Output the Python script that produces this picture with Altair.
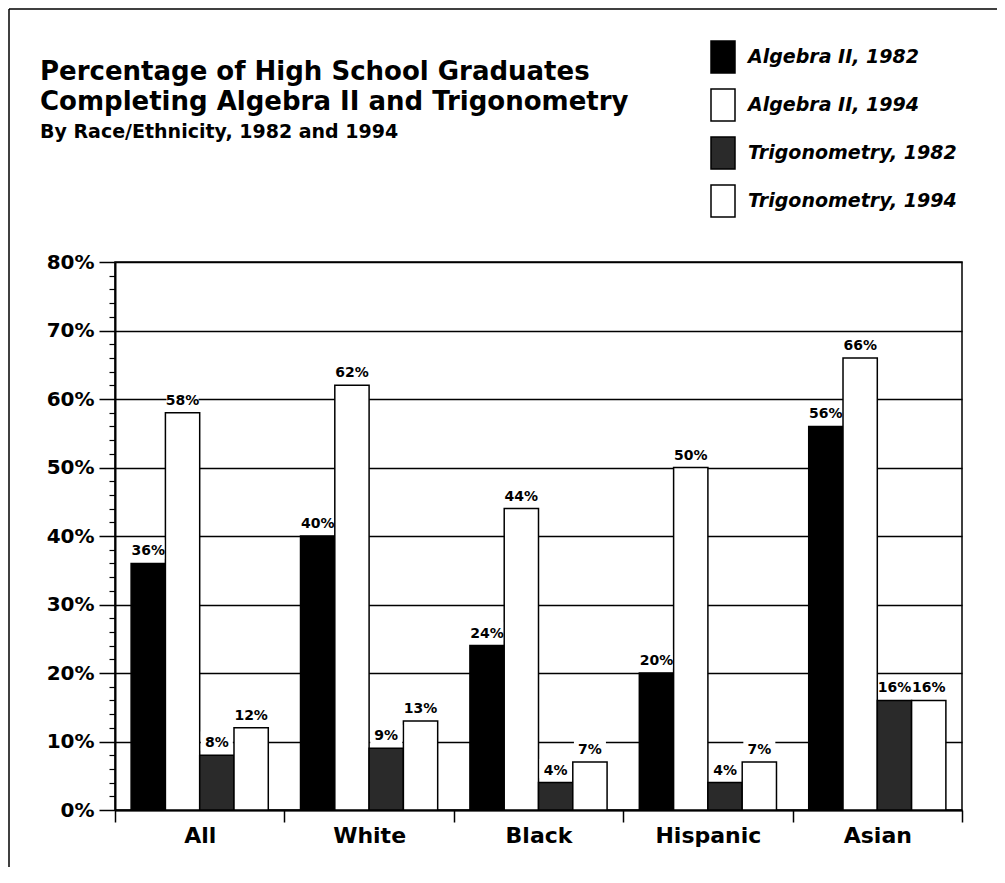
import altair as alt
import pandas as pd

groups = ["All", "White", "Black", "Hispanic", "Asian"]
series = ["Algebra II, 1982", "Algebra II, 1994", "Trigonometry, 1982", "Trigonometry, 1994"]
algebra_1982 = [36, 40, 24, 20, 56]
algebra_1994 = [58, 62, 44, 50, 66]
trig_1982 = [8, 9, 4, 4, 16]
trig_1994 = [12, 13, 7, 7, 16]
y_major = [0, 10, 20, 30, 40, 50, 60, 70, 80]
y_minor = [2, 4, 6, 8, 12, 14, 16, 18, 22, 24, 26, 28, 32, 34, 36, 38, 42, 44, 46, 48,
           52, 54, 56, 58, 62, 64, 66, 68, 72, 74, 76, 78]
fills = ["#000000", "#ffffff", "#2a2a2a", "#ffffff"]

rows = []
for s, vals in zip(series, [algebra_1982, algebra_1994, trig_1982, trig_1994]):
    for g, v in zip(groups, vals):
        rows.append({"group": g, "series": s, "value": v, "label": f"{v}%"})
df = pd.DataFrame(rows)

FONT = "DejaVu Sans"

x_axis = alt.Axis(title=None, labelAngle=0, tickBand="extent", tickSize=12,
                  tickColor="black", tickWidth=1.5, domainColor="black",
                  domainWidth=2, labelFont=FONT, labelFontWeight="bold",
                  labelFontSize=22, labelColor="black", labelPadding=3,
                  grid=False)
x_enc = alt.X("group:N", sort=groups,
              scale=alt.Scale(paddingInner=0, paddingOuter=0),
              axis=x_axis)
xo_enc = alt.XOffset("series:N", sort=series,
                     scale=alt.Scale(paddingInner=0, paddingOuter=0.47))
y_scale = alt.Scale(domain=[0, 80], nice=False)

bars = alt.Chart(df).mark_bar(stroke="black", strokeWidth=1.5).encode(
    x=x_enc,
    xOffset=xo_enc,
    y=alt.Y("value:Q", scale=y_scale,
            axis=alt.Axis(title=None, values=y_major, labelExpr="datum.value + '%'",
                          orient="left", grid=True, gridColor="black", gridWidth=1.3,
                          gridOpacity=1, tickSize=16, tickWidth=1.5, tickColor="black",
                          domainColor="black", domainWidth=2, labelFont=FONT,
                          labelFontWeight="bold", labelFontSize=20, labelColor="black",
                          labelPadding=5)),
    fill=alt.Fill("series:N", sort=series,
                  scale=alt.Scale(domain=series, range=fills),
                  legend=alt.Legend(title=None, orient="none", legendX=591, legendY=-222,
                                    symbolType="M-0.75,-1H0.75V1H-0.75Z", symbolSize=1024,
                                    symbolStrokeColor="black", symbolStrokeWidth=1.5,
                                    symbolOpacity=1, rowPadding=10, labelOffset=8,
                                    labelFont=FONT, labelFontStyle="italic",
                                    labelFontWeight="bold",
                                    labelFontSize=19, labelColor="black", padding=0,
                                    labelLimit=400)),
)

boxes = alt.Chart(df).mark_point(
    shape="M-1,-0.6H1V0.6H-1Z", filled=True, fill="white", opacity=1,
    strokeWidth=0, size=1024, yOffset=-14
).encode(
    x=x_enc,
    xOffset=xo_enc,
    y=alt.Y("value:Q", scale=y_scale,
            axis=alt.Axis(title=None, values=y_minor, orient="left", labels=False,
                          domain=False, grid=False, tickSize=6, tickWidth=1.2,
                          tickColor="black")),
)

labels = alt.Chart(df).mark_text(
    font=FONT, fontWeight="bold", fontSize=14, color="black", dy=-8,
    baseline="alphabetic"
).encode(
    x=x_enc,
    xOffset=xo_enc,
    y=alt.Y("value:Q", scale=y_scale, axis=None),
    text="label:N",
)

frame_src = alt.Data(values=[{"k": 1}])
frame_left = alt.Chart(frame_src).mark_rule(color="black", strokeWidth=1.5).encode(
    x=alt.value(-106), y=alt.value(-253), y2=alt.value(640))
frame_top = alt.Chart(frame_src).mark_rule(color="black", strokeWidth=1.5).encode(
    x=alt.value(-106), x2=alt.value(900), y=alt.value(-253))

chart = alt.layer(bars, boxes, labels, frame_left, frame_top).resolve_axis(
    y="independent"
).properties(
    width=847, height=548,
    padding={"left": 107, "top": 254, "right": 35, "bottom": 57},
    autosize=alt.AutoSizeParams(type="none"),
    title=alt.TitleParams(
        text=["Percentage of High School Graduates", "Completing Algebra II and Trigonometry"],
        subtitle="By Race/Ethnicity, 1982 and 1994",
        anchor="start", frame="group", dx=-75, offset=-134,
        font=FONT, fontSize=26, fontWeight="bold", color="black", lineHeight=30,
        subtitleFont=FONT, subtitleFontSize=19, subtitleFontWeight="bold",
        subtitleColor="black", subtitlePadding=8,
    ),
).configure_view(stroke="black", strokeWidth=1.5)

chart.save("out.html", embed_options={"renderer": "svg", "actions": False})
